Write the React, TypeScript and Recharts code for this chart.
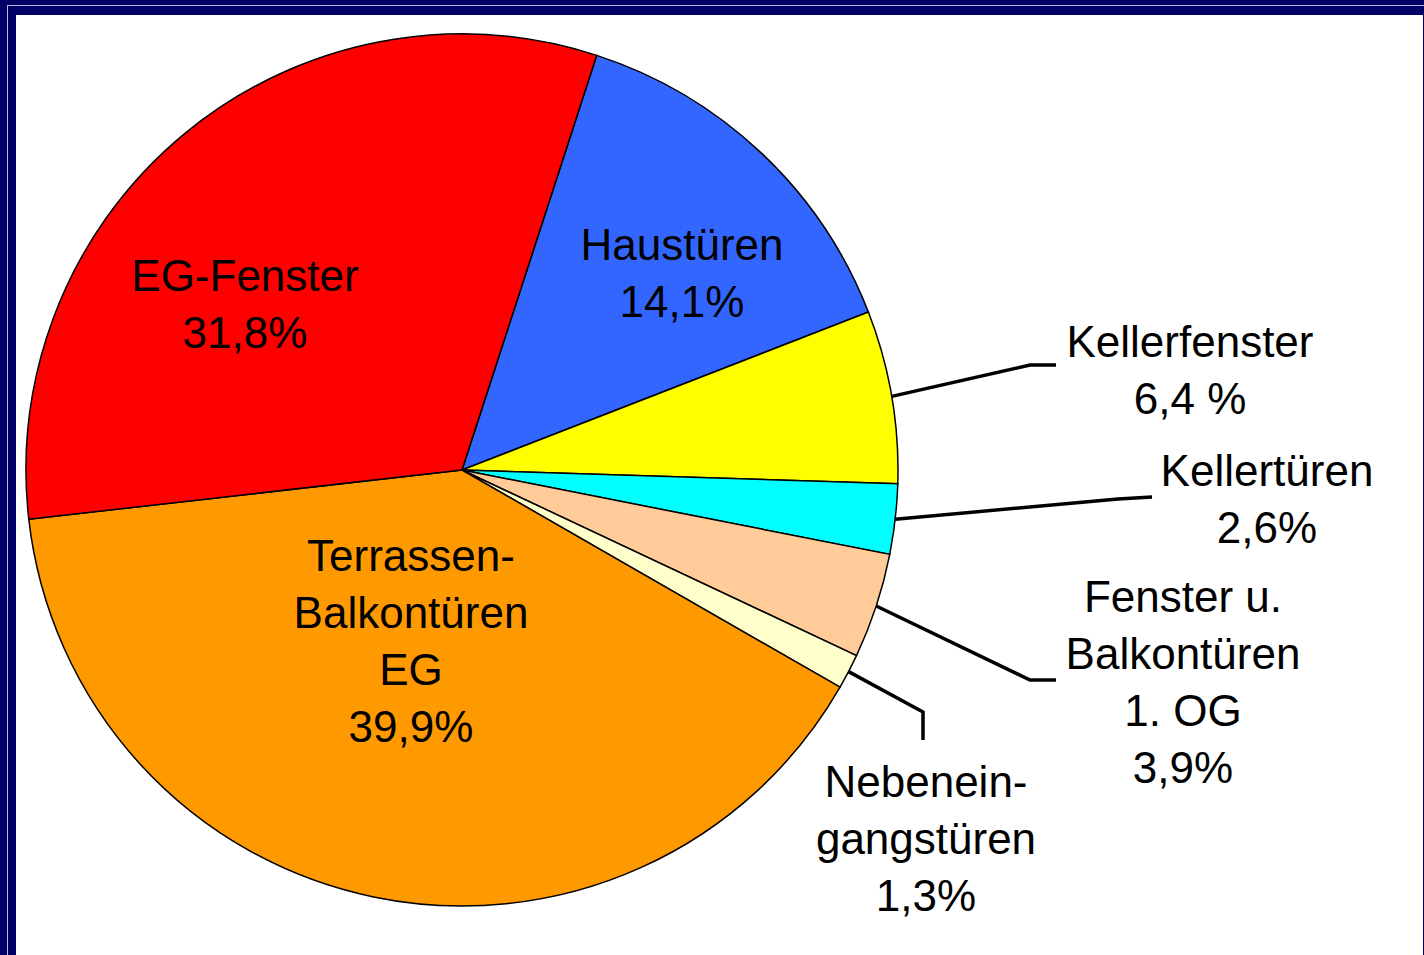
import React from 'react';
import { PieChart, Pie, Cell } from 'recharts';

// shares of burglary entry points
const categories = [
  'Haustüren',
  'Kellerfenster',
  'Kellertüren',
  'Fenster u. Balkontüren 1. OG',
  'Nebeneingangstüren',
  'Terrassen-Balkontüren EG',
  'EG-Fenster',
];
const shares = [14.1, 6.4, 2.6, 3.9, 1.3, 39.9, 31.8];
const labelLines = [
  ['Haustüren', '14,1%'],
  ['Kellerfenster', '6,4 %'],
  ['Kellertüren', '2,6%'],
  ['Fenster u.', 'Balkontüren', '1. OG', '3,9%'],
  ['Nebenein-', 'gangstüren', '1,3%'],
  ['Terrassen-', 'Balkontüren', 'EG', '39,9%'],
  ['EG-Fenster', '31,8%'],
];
const sliceColors = ['#3366FF', '#FFFF00', '#00FFFF', '#FFCC99', '#FFFFCC', '#FF9900', '#FF0000'];

const data = categories.map((name, i) => ({ name, value: shares[i] }));

const RADIAN = Math.PI / 180;
const FONT = '"Liberation Sans", Arial, sans-serif';
const FONT_SIZE = 44;
const LINE_GAP = 57;

// text spot (center x, first baseline) and leader elbow/end, relative to pie center
type Layout = { tx: number; ty: number; elbow?: [number, number]; end?: [number, number] };
const layout: Layout[] = [
  { tx: 220, ty: -210 },
  { tx: 728, ty: -113, elbow: [568, -105], end: [594, -105] },
  { tx: 805, ty: 16, elbow: [656, 29], end: [690, 27] },
  { tx: 721, ty: 142, elbow: [568, 210], end: [594, 210] },
  { tx: 464, ty: 327, elbow: [461, 242], end: [461, 270] },
  { tx: -51, ty: 101 },
  { tx: -217, ty: -179 },
];

const renderLabel = (props: any) => {
  const { cx, cy, midAngle, outerRadius, index } = props;
  const l = layout[index];
  const lines = labelLines[index];
  let leader = null;
  if (l.elbow && l.end) {
    const sx = cx + outerRadius * Math.cos(-midAngle * RADIAN);
    const sy = cy + outerRadius * Math.sin(-midAngle * RADIAN);
    const pts = `${sx},${sy} ${cx + l.elbow[0]},${cy + l.elbow[1]} ${cx + l.end[0]},${cy + l.end[1]}`;
    leader = <polyline points={pts} fill="none" stroke="#000" strokeWidth={3.5} />;
  }
  return (
    <g key={`lbl-${index}`}>
      {leader}
      <text
        x={cx + l.tx}
        y={cy + l.ty}
        textAnchor="middle"
        fill="#000"
        fontFamily={FONT}
        fontSize={FONT_SIZE}
      >
        {lines.map((t, j) => (
          <tspan key={j} x={cx + l.tx} dy={j === 0 ? 0 : LINE_GAP}>
            {t}
          </tspan>
        ))}
      </text>
    </g>
  );
};

export default function App() {
  return (
    <div
      style={{
        position: 'absolute',
        left: 0,
        top: 0,
        width: 1424,
        height: 955,
        background: '#000066',
        overflow: 'hidden',
      }}
    >
      <div
        style={{
          position: 'absolute',
          left: 7,
          top: 5,
          width: 1420,
          height: 960,
          borderLeft: '1px solid #b8b8dc',
          borderTop: '1px solid #b8b8dc',
        }}
      />
      <div
        style={{ position: 'absolute', left: 16, top: 15, width: 1407, height: 940, background: '#fff' }}
      />
      <div style={{ position: 'absolute', left: 0, top: 0 }}>
        <PieChart width={1424} height={955} margin={{ top: 0, right: 0, bottom: 0, left: 0 }}>
          <Pie
            data={data}
            dataKey="value"
            nameKey="name"
            cx={462}
            cy={470}
            outerRadius={436}
            startAngle={72}
            endAngle={-288}
            stroke="#000"
            strokeWidth={1.5}
            label={renderLabel}
            labelLine={false}
            isAnimationActive={false}
          >
            {data.map((d, i) => (
              <Cell key={d.name} fill={sliceColors[i]} />
            ))}
          </Pie>
        </PieChart>
      </div>
    </div>
  );
}
